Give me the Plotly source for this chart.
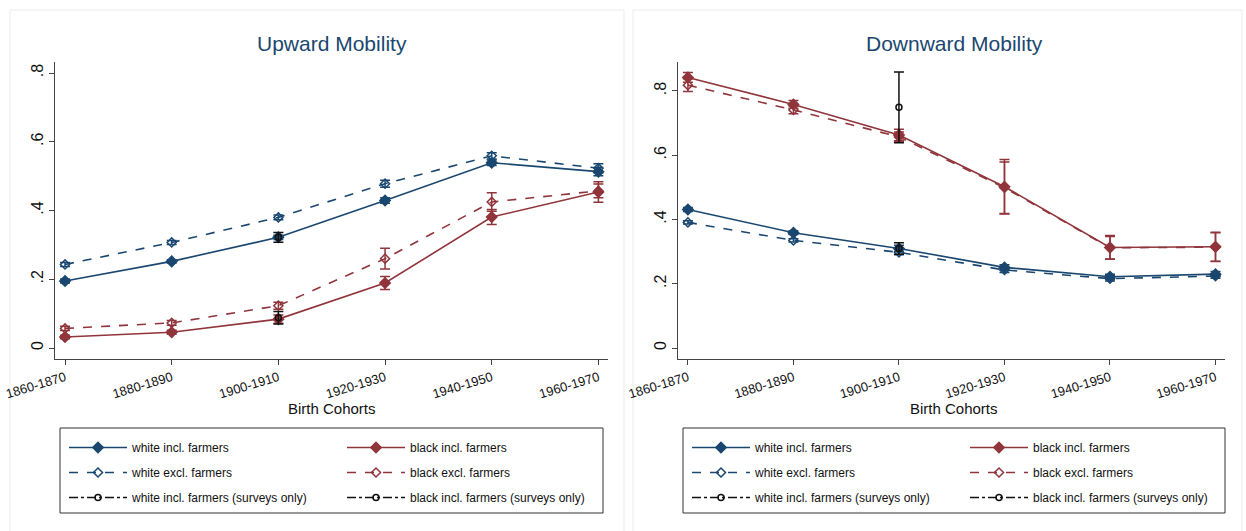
import plotly.graph_objects as go

cohorts = ["1860-1870", "1880-1890", "1900-1910", "1920-1930", "1940-1950", "1960-1970"]
survey_cohort = ["1900-1910"]

# Upward mobility
up_white_incl = [0.195, 0.252, 0.322, 0.429, 0.539, 0.513]
up_white_incl_err = [0.006, 0.005, 0.006, 0.008, 0.008, 0.012]
up_white_excl = [0.243, 0.307, 0.380, 0.478, 0.559, 0.523]
up_white_excl_err = [0.006, 0.006, 0.007, 0.010, 0.009, 0.013]
up_black_incl = [0.032, 0.046, 0.084, 0.189, 0.381, 0.454]
up_black_incl_err = [0.005, 0.006, 0.012, 0.019, 0.022, 0.030]
up_black_excl = [0.057, 0.073, 0.123, 0.260, 0.425, 0.457]
up_black_excl_err = [0.006, 0.007, 0.010, 0.030, 0.027, 0.020]
up_white_survey = [0.322]
up_white_survey_err = [0.014]
up_black_survey = [0.088]
up_black_survey_err = [0.018]

# Downward mobility
dn_white_incl = [0.431, 0.359, 0.310, 0.251, 0.222, 0.230]
dn_white_incl_err = [0.006, 0.006, 0.010, 0.008, 0.008, 0.008]
dn_white_excl = [0.391, 0.335, 0.298, 0.243, 0.216, 0.224]
dn_white_excl_err = [0.005, 0.005, 0.008, 0.008, 0.007, 0.007]
dn_black_incl = [0.842, 0.758, 0.663, 0.502, 0.313, 0.315]
dn_black_incl_err = [0.015, 0.012, 0.018, 0.085, 0.037, 0.045]
dn_black_excl = [0.818, 0.741, 0.657, 0.499, 0.312, 0.314]
dn_black_excl_err = [0.020, 0.012, 0.015, 0.080, 0.035, 0.045]
dn_white_survey = [0.310]
dn_white_survey_err = [0.018]
dn_black_survey = [0.749]
dn_black_survey_err = [0.110]

ytick_vals = [0, 0.2, 0.4, 0.6, 0.8]
ytick_text = ["0", ".2", ".4", ".6", ".8"]
up_grid_vals = [0, 0.2, 0.4, 0.6]
dn_grid_vals = [0, 0.2, 0.4, 0.6, 0.8]

NAVY = "#1a476f"
MAROON = "#90353b"
BLACK = "#111111"
FONT = "Liberation Sans, Arial, sans-serif"
W, H = 1246, 531
UP_RANGE = [-0.032, 0.832]
DN_RANGE = [-0.034, 0.89]

fig = go.Figure()
counter = [0]


def add_series(x, y, err, name, color, dash, symbol, size, xa, ya, legend, width=1.6):
    counter[0] += 1
    fig.add_trace(go.Scatter(
        x=x, y=y, name=name, mode="lines+markers",
        line=dict(color=color, width=width, dash=dash),
        marker=dict(color=color, symbol=symbol, size=size, line=dict(color=color, width=1.5)),
        error_y=dict(type="data", array=err, visible=True, color=color, thickness=1.5, width=5),
        xaxis=xa, yaxis=ya, legend=legend, legendgroup="g%d" % counter[0], showlegend=True,
    ))


panels = [
    ("x", "y", "legend", "legend2",
     up_white_incl, up_white_incl_err, up_black_incl, up_black_incl_err,
     up_white_excl, up_white_excl_err, up_black_excl, up_black_excl_err,
     up_white_survey, up_white_survey_err, up_black_survey, up_black_survey_err),
    ("x2", "y2", "legend3", "legend4",
     dn_white_incl, dn_white_incl_err, dn_black_incl, dn_black_incl_err,
     dn_white_excl, dn_white_excl_err, dn_black_excl, dn_black_excl_err,
     dn_white_survey, dn_white_survey_err, dn_black_survey, dn_black_survey_err),
]

for (xa, ya, lgw, lgb, wi, wie, bi, bie, we, wee, be, bee, ws, wse, bs, bse) in panels:
    add_series(cohorts, wi, wie, "white incl. farmers", NAVY, "solid", "diamond", 8, xa, ya, lgw)
    add_series(cohorts, we, wee, "white excl. farmers", NAVY, "dash", "diamond-open", 7, xa, ya, lgw)
    add_series(survey_cohort, ws, wse, "white incl. farmers (surveys only)", BLACK, "dashdot", "circle-open", 6, xa, ya, lgw)
    add_series(cohorts, bi, bie, "black incl. farmers", MAROON, "solid", "diamond", 8, xa, ya, lgb)
    add_series(cohorts, be, bee, "black excl. farmers", MAROON, "dash", "diamond-open", 7, xa, ya, lgb)
    add_series(survey_cohort, bs, bse, "black incl. farmers (surveys only)", BLACK, "dashdot", "circle-open", 6, xa, ya, lgb)


def px_x(v):
    return v / W


def px_y(v):
    return 1 - v / H


axis_common = dict(
    showline=True, linecolor="#444444", linewidth=1.2,
    ticks="outside", ticklen=5, tickcolor="#444444", tickwidth=1.2,
    zeroline=False, automargin=False, mirror=False,
)

xa_common = dict(axis_common, type="category", showgrid=False, tickangle=-17,
                 tickfont=dict(family=FONT, size=13, color="#111111"),
                 range=[-0.094, 5.09])
ya_common = dict(axis_common, tickvals=ytick_vals, ticktext=ytick_text, tickangle=-90,
                 showgrid=False,
                 tickfont=dict(family=FONT, size=16, color="#111111"))
grid_common = dict(showgrid=True, gridcolor="#e3ebf2", gridwidth=1, showticklabels=False,
                   ticks="", showline=False, zeroline=False, automargin=False)

legend_common = dict(
    orientation="v", borderwidth=0, bgcolor="rgba(0,0,0,0)",
    font=dict(family=FONT, size=12, color="#111111"),
    xanchor="left", yanchor="top", traceorder="grouped", itemwidth=58,
    tracegroupgap=6,
)

LEG_TOP = 433
YDOM = [px_y(359), px_y(62)]
fig.update_layout(
    width=W, height=H, template="none",
    paper_bgcolor="white", plot_bgcolor="white",
    margin=dict(l=0, r=0, t=0, b=0),
    xaxis=dict(xa_common, domain=[px_x(55), px_x(608)], anchor="y"),
    yaxis=dict(ya_common, domain=YDOM, range=UP_RANGE, anchor="x"),
    xaxis2=dict(xa_common, domain=[px_x(678), px_x(1225)], anchor="y2"),
    yaxis2=dict(ya_common, domain=YDOM, range=DN_RANGE, anchor="x2"),
    yaxis3=dict(grid_common, overlaying="y", anchor="x", range=UP_RANGE, tickvals=up_grid_vals),
    yaxis4=dict(grid_common, overlaying="y2", anchor="x2", range=DN_RANGE, tickvals=dn_grid_vals),
    legend=dict(legend_common, x=px_x(64), y=px_y(LEG_TOP)),
    legend2=dict(legend_common, x=px_x(342), y=px_y(LEG_TOP)),
    legend3=dict(legend_common, x=px_x(687), y=px_y(LEG_TOP)),
    legend4=dict(legend_common, x=px_x(965), y=px_y(LEG_TOP)),
    shapes=[
        dict(type="rect", xref="paper", yref="paper", x0=px_x(10), x1=px_x(624),
             y0=-0.02, y1=px_y(10), line=dict(color="#ececec", width=1), layer="below"),
        dict(type="rect", xref="paper", yref="paper", x0=px_x(633), x1=px_x(1242),
             y0=-0.02, y1=px_y(10), line=dict(color="#ececec", width=1), layer="below"),
        dict(type="rect", xref="paper", yref="paper", x0=px_x(60), x1=px_x(603),
             y0=px_y(513), y1=px_y(428), line=dict(color="#333333", width=1), layer="below"),
        dict(type="rect", xref="paper", yref="paper", x0=px_x(683), x1=px_x(1225),
             y0=px_y(513), y1=px_y(428), line=dict(color="#333333", width=1), layer="below"),
    ],
    annotations=[
        dict(text="Upward Mobility", x=px_x(332), y=px_y(44), xref="paper", yref="paper",
             showarrow=False, font=dict(family=FONT, size=21, color=NAVY), xanchor="center", yanchor="middle"),
        dict(text="Downward Mobility", x=px_x(954), y=px_y(44), xref="paper", yref="paper",
             showarrow=False, font=dict(family=FONT, size=21, color=NAVY), xanchor="center", yanchor="middle"),
        dict(text="Birth Cohorts", x=px_x(332), y=px_y(408), xref="paper", yref="paper",
             showarrow=False, font=dict(family=FONT, size=15, color="#111111"), xanchor="center", yanchor="middle"),
        dict(text="Birth Cohorts", x=px_x(954), y=px_y(408), xref="paper", yref="paper",
             showarrow=False, font=dict(family=FONT, size=15, color="#111111"), xanchor="center", yanchor="middle"),
    ],
)

fig.write_html("out.html", config={"displayModeBar": False},
               post_script="document.body.style.margin='0px';")
